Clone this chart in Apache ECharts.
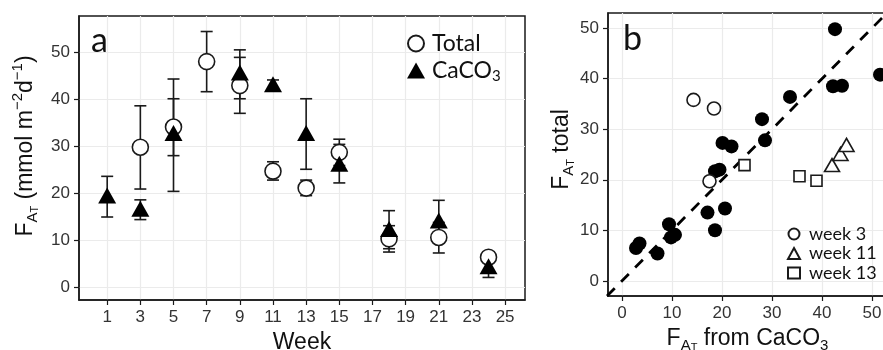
<!DOCTYPE html>
<html>
<head>
<meta charset="utf-8">
<script src="https://cdn.jsdelivr.net/npm/echarts@6/dist/echarts.min.js"></script>
<style>
html, body { margin: 0; padding: 0; background: #fff; }
#chart { width: 883px; height: 350px; }
</style>
</head>
<body>
<div id="chart"></div>
<script>
// panel a: weekly fluxes (mean with error bar ends)
const weekTicks = [1, 3, 5, 7, 9, 11, 13, 15, 17, 19, 21, 23, 25];
const fluxTicks = [0, 10, 20, 30, 40, 50];

const totalWeeks = [3, 5, 7, 9, 11, 13, 15, 18, 21, 24];
const totalMean = [29.8, 34.1, 48.0, 42.9, 24.7, 21.1, 28.7, 10.3, 10.6, 6.4];
const totalLow = [20.9, 28.0, 41.6, 37.0, 22.8, 19.5, 25.9, 7.5, 7.3, 5.6];
const totalHigh = [38.6, 40.1, 54.4, 48.9, 26.7, 22.8, 31.5, 13.1, 13.8, 7.2];

const caco3Weeks = [1, 3, 5, 9, 11, 13, 15, 18, 21, 24];
const caco3Mean = [19.5, 16.7, 32.8, 45.7, 43.2, 32.8, 26.3, 12.4, 14.2, 4.5];
const caco3Low = [14.95, 14.4, 20.4, 40.1, 42.1, 25.1, 22.2, 8.2, 9.9, 2.1];
const caco3High = [23.6, 18.6, 44.3, 50.5, 44.1, 40.1, 30.4, 16.3, 18.5, 6.9];

// panel b: total vs CaCO3 flux
const bTicks = [0, 10, 20, 30, 40, 50];
const otherX = [42.6, 51.6, 42.2, 44.0, 33.6, 28.0, 28.6, 20.1, 21.9, 18.6, 19.5, 17.1, 20.6, 18.6, 9.4, 9.8, 10.6, 2.8, 3.5, 7.1];
const otherY = [49.8, 40.8, 38.5, 38.6, 36.4, 32.0, 27.8, 27.3, 26.6, 21.7, 22.0, 13.5, 14.3, 10.0, 11.2, 8.6, 9.1, 6.5, 7.4, 5.4];
const week3X = [14.3, 18.4, 17.5];
const week3Y = [35.8, 34.1, 19.7];
const week11X = [42.0, 43.7, 44.9];
const week11Y = [22.9, 25.1, 26.9];
const week13X = [24.5, 35.5, 38.9];
const week13Y = [22.9, 20.7, 19.8];
const oneToOne = [-3, 53];

const ink = '#1a1a1a';
const gridLine = '#ebebeb';
const tickFont = { fontFamily: 'Liberation Sans', fontSize: 17, color: '#333' };

const zip = (xs, ys) => xs.map((x, i) => [x, ys[i]]);
const zip3 = (xs, a, b) => xs.map((x, i) => [x, a[i], b[i]]);

function errorBar(params, api) {
  const top = api.coord([api.value(0), api.value(2)]);
  const bot = api.coord([api.value(0), api.value(1)]);
  const half = 6;
  const style = { stroke: ink, lineWidth: 1.6, fill: null };
  return {
    type: 'group',
    children: [
      { type: 'line', shape: { x1: top[0], y1: top[1], x2: bot[0], y2: bot[1] }, style },
      { type: 'line', shape: { x1: top[0] - half, y1: top[1], x2: top[0] + half, y2: top[1] }, style },
      { type: 'line', shape: { x1: bot[0] - half, y1: bot[1], x2: bot[0] + half, y2: bot[1] }, style }
    ]
  };
}

function valueAxis(gridIndex, min, max, ticks, extra) {
  return Object.assign({
    type: 'value',
    gridIndex,
    min,
    max,
    axisLine: { show: true, onZero: false, lineStyle: { color: ink, width: 1.5 } },
    axisTick: { show: true, length: 5, customValues: ticks, lineStyle: { color: ink, width: 1.2 } },
    axisLabel: Object.assign({ customValues: ticks, margin: 9 }, tickFont),
    splitLine: { show: true, lineStyle: { color: gridLine, width: 1.2 } }
  }, extra);
}

const nameRich = {
  m: { fontFamily: 'Liberation Sans', fontSize: 23, color: '#111', lineHeight: 30 },
  s: { fontFamily: 'Liberation Sans', fontSize: 15, color: '#111', verticalAlign: 'bottom', lineHeight: 16 },
  ss: { fontFamily: 'Liberation Sans', fontSize: 11, color: '#111', verticalAlign: 'bottom', lineHeight: 10 },
  sup: { fontFamily: 'Liberation Sans', fontSize: 15, color: '#111', verticalAlign: 'top', lineHeight: 16 }
};

const openStyle = { color: '#fff', borderColor: ink, borderWidth: 1.6, opacity: 1 };
const solidStyle = { color: '#000', opacity: 1 };

const chart = echarts.init(document.getElementById('chart'), null, { renderer: 'canvas' });

chart.setOption({
  backgroundColor: '#fff',
  animation: false,
  title: [
    { text: 'a', left: 91, top: 24, padding: 0, textStyle: { fontFamily: 'Lato', fontSize: 34, fontWeight: 'normal', color: '#111' } },
    { text: 'b', left: 623, top: 22, padding: 0, textStyle: { fontFamily: 'Lato', fontSize: 34, fontWeight: 'normal', color: '#111' } }
  ],
  legend: [
    {
      data: ['Total', 'CaCO3'],
      orient: 'vertical',
      left: 407,
      top: 32,
      padding: 0,
      itemWidth: 18,
      itemHeight: 16,
      itemGap: 4,
      selectedMode: false,
      formatter: n => n === 'CaCO3' ? '{t|CaCO}{s|3}' : '{t|' + n + '}',
      textStyle: {
        padding: [0, 0, 0, 2],
        rich: {
          t: { fontFamily: 'Lato', fontSize: 23, color: '#111', lineHeight: 26 },
          s: { fontFamily: 'Lato', fontSize: 15, color: '#111', verticalAlign: 'bottom', lineHeight: 14 }
        }
      }
    },
    {
      data: ['week 3', 'week 11', 'week 13'],
      orient: 'vertical',
      left: 787,
      top: 225,
      padding: 0,
      itemWidth: 12,
      itemHeight: 11,
      itemGap: 1.5,
      selectedMode: false,
      textStyle: { fontFamily: 'Lato', fontSize: 18, color: '#111', lineHeight: 13, padding: [0, 0, 0, 4] }
    }
  ],
  grid: [
    { left: 79, top: 16, width: 446, height: 284, show: true, borderColor: ink, borderWidth: 1.5, backgroundColor: 'transparent', outerBoundsMode: 'none' },
    { left: 608, top: 13, width: 279, height: 283, show: true, borderColor: ink, borderWidth: 1.5, backgroundColor: 'transparent', outerBoundsMode: 'none' }
  ],
  xAxis: [
    valueAxis(0, -0.7, 26.2, weekTicks, {
      name: '{m|Week}', nameLocation: 'middle', nameGap: 27, nameTextStyle: { rich: nameRich }
    }),
    valueAxis(1, -2.8, 53, bTicks, {
      name: '{m|F}{s|A}{ss|T}{m| from CaCO}{s|3}', nameLocation: 'middle', nameGap: 27, nameTextStyle: { rich: nameRich }
    })
  ],
  yAxis: [
    valueAxis(0, -2.7, 57.7, fluxTicks, {
      name: '{m|F}{s|A}{ss|T}{m| (mmol m}{sup|−2}{m|d}{sup|−1}{m|)}', nameLocation: 'middle', nameRotate: 90, nameGap: 32,
      nameTextStyle: { rich: nameRich, padding: [0, 0, 0, 24] }
    }),
    valueAxis(1, -3, 53, bTicks, {
      name: '{m|F}{s|A}{ss|T}{m| total}', nameLocation: 'middle', nameRotate: 90, nameGap: 31,
      nameTextStyle: { rich: nameRich, padding: [0, 0, 0, 10] }
    })
  ],
  series: [
    { type: 'custom', xAxisIndex: 0, yAxisIndex: 0, renderItem: errorBar, data: zip3(totalWeeks, totalLow, totalHigh), z: 1, silent: true },
    { type: 'custom', xAxisIndex: 0, yAxisIndex: 0, renderItem: errorBar, data: zip3(caco3Weeks, caco3Low, caco3High), z: 1, silent: true },
    { name: 'Total', type: 'scatter', xAxisIndex: 0, yAxisIndex: 0, symbol: 'circle', symbolSize: 16, itemStyle: openStyle, data: zip(totalWeeks, totalMean), z: 2 },
    { name: 'CaCO3', type: 'scatter', xAxisIndex: 0, yAxisIndex: 0, symbol: 'triangle', symbolSize: [18, 16], itemStyle: solidStyle, data: zip(caco3Weeks, caco3Mean), z: 3 },

    {
      type: 'line', xAxisIndex: 1, yAxisIndex: 1, data: zip(oneToOne, oneToOne), showSymbol: false, clip: true, silent: true,
      lineStyle: { color: '#000', width: 2.8, type: [11, 9] }, z: 1
    },
    { name: 'other', type: 'scatter', xAxisIndex: 1, yAxisIndex: 1, symbol: 'circle', symbolSize: 14, itemStyle: solidStyle, data: zip(otherX, otherY), z: 2 },
    { name: 'week 3', type: 'scatter', xAxisIndex: 1, yAxisIndex: 1, symbol: 'circle', symbolSize: 13, itemStyle: openStyle, data: zip(week3X, week3Y), z: 3 },
    { name: 'week 11', type: 'scatter', xAxisIndex: 1, yAxisIndex: 1, symbol: 'triangle', symbolSize: [15, 13], itemStyle: openStyle, data: zip(week11X, week11Y), z: 3 },
    { name: 'week 13', type: 'scatter', xAxisIndex: 1, yAxisIndex: 1, symbol: 'rect', symbolSize: 11, itemStyle: openStyle, data: zip(week13X, week13Y), z: 3 }
  ]
});
</script>
</body>
</html>
